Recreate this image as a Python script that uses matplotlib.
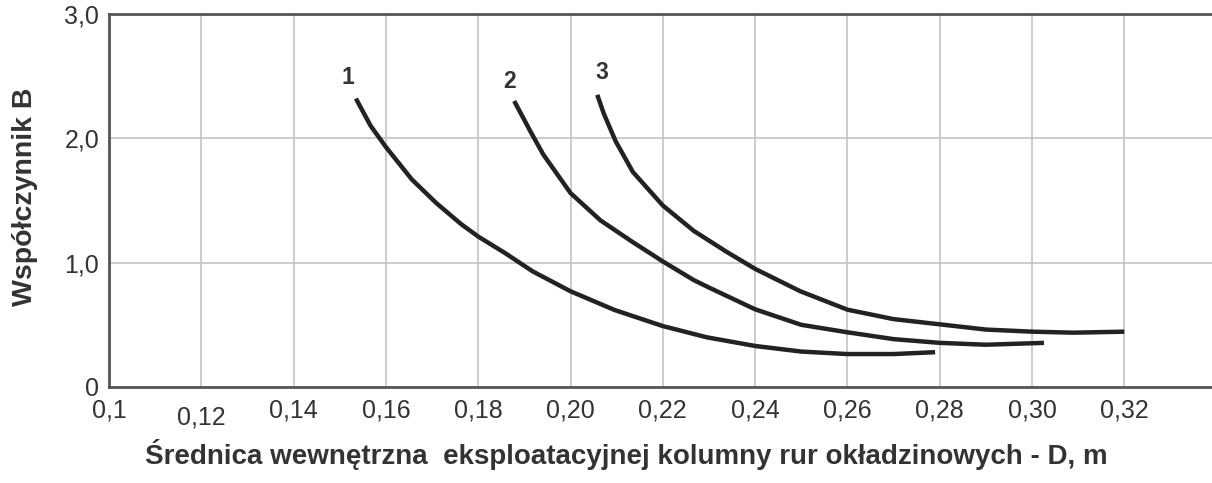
import matplotlib.pyplot as plt
from matplotlib.transforms import ScaledTranslation

# curve values (D in m, coefficient B)
d1 = [0.1535, 0.1567, 0.160, 0.1656, 0.1709, 0.1763, 0.180, 0.1857, 0.1918, 0.200,
      0.2095, 0.220, 0.2295, 0.240, 0.250, 0.260, 0.270, 0.279]
b1 = [2.32, 2.10, 1.93, 1.67, 1.48, 1.31, 1.21, 1.08, 0.93, 0.77,
      0.62, 0.49, 0.40, 0.33, 0.285, 0.265, 0.265, 0.28]

d2 = [0.1878, 0.1914, 0.1941, 0.200, 0.2065, 0.2135, 0.220, 0.2267, 0.230,
      0.240, 0.250, 0.260, 0.270, 0.280, 0.290, 0.3026]
b2 = [2.30, 2.05, 1.87, 1.56, 1.34, 1.165, 1.01, 0.86, 0.80,
      0.625, 0.50, 0.44, 0.385, 0.355, 0.34, 0.355]

d3 = [0.2058, 0.2072, 0.2098, 0.2135, 0.220, 0.2267, 0.2337, 0.240, 0.2498,
      0.260, 0.270, 0.280, 0.290, 0.300, 0.309, 0.320]
b3 = [2.35, 2.20, 1.975, 1.73, 1.46, 1.256, 1.09, 0.95, 0.77,
      0.622, 0.546, 0.504, 0.462, 0.445, 0.437, 0.445]

curve_names = ['1', '2', '3']
label_pos = [(0.1517, 2.49), (0.1867, 2.46), (0.2067, 2.53)]

x_ticks = [0.10, 0.12, 0.14, 0.16, 0.18, 0.20, 0.22, 0.24, 0.26, 0.28, 0.30, 0.32]
x_tick_labels = ['0,1', '0,12', '0,14', '0,16', '0,18', '0,20', '0,22',
                 '0,24', '0,26', '0,28', '0,30', '0,32']
y_ticks = [0, 1, 2, 3]
y_tick_labels = ['0', '1,0', '2,0', '3,0']

plt.rcParams['font.family'] = ['Liberation Sans', 'DejaVu Sans']
txt = '#333333'
spine_col = '#555555'

fig = plt.figure(figsize=(12.12, 4.83), dpi=100)
ax = fig.add_axes([109 / 1212, 1 - 387 / 483, 1 - 109 / 1212, (387 - 14) / 483])

for d, b in [(d1, b1), (d2, b2), (d3, b3)]:
    ax.plot(d, b, color='#222222', linewidth=3.2, solid_capstyle='butt',
            solid_joinstyle='round', zorder=3)

for name, (x, y) in zip(curve_names, label_pos):
    ax.text(x, y, name, fontsize=16.5, fontweight='bold', color=txt,
            ha='center', va='center')

ax.set_xlim(0.1, 0.339)
ax.set_ylim(0, 3.0)
ax.set_xticks(x_ticks)
ax.set_xticklabels(x_tick_labels)
ax.set_yticks(y_ticks)
ax.set_yticklabels(y_tick_labels)
ax.tick_params(axis='both', length=0, labelsize=18, labelcolor=txt)
ax.tick_params(axis='x', pad=8)
ax.tick_params(axis='y', pad=7)

ax.grid(True, color='#c4c4c4', linewidth=1.2)
ax.set_axisbelow(True)
for side in ['left', 'bottom', 'top']:
    ax.spines[side].set_color(spine_col)
    ax.spines[side].set_linewidth(2.0)
ax.spines['right'].set_visible(False)

# the 0,12 label sits a bit lower in the original
lbl = ax.get_xticklabels()[1]
lbl.set_transform(lbl.get_transform() + ScaledTranslation(0, -7 / 100, fig.dpi_scale_trans))

fig.text(25 / 1212, 1 - 197 / 483, 'Współczynnik B', rotation=90, fontsize=20.5,
         fontweight='bold', color=txt, ha='center', va='center')
fig.text(626 / 1212, 1 - 455 / 483,
         'Średnica wewnętrzna  eksploatacyjnej kolumny rur okładzinowych - D, m',
         fontsize=20, fontweight='bold', color=txt, ha='center', va='center')

fig.savefig('out.png', dpi=100)
